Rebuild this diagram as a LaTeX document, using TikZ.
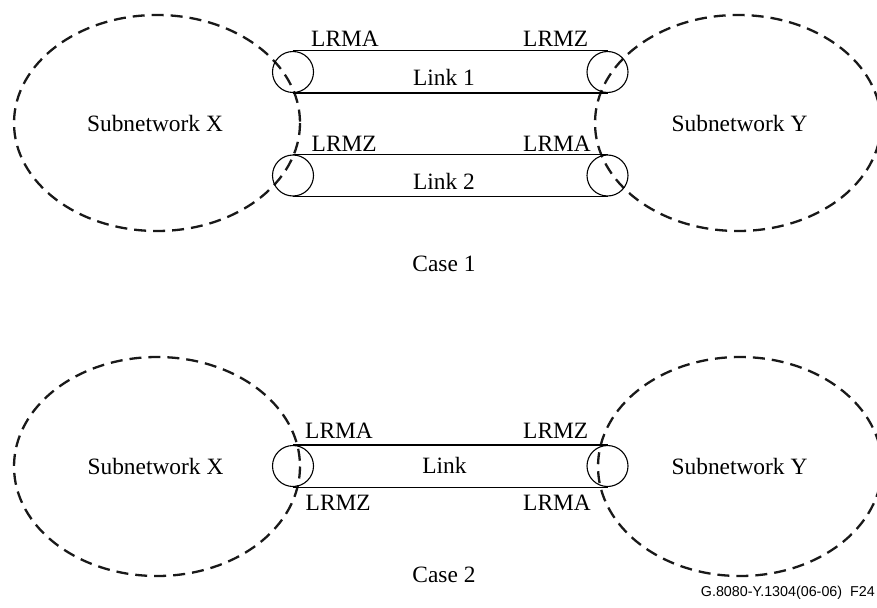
\documentclass[tikz,border=0pt]{standalone}
\usepackage{fontspec}
\setmainfont{Liberation Serif}
\newfontfamily\footfont{Liberation Sans}
\begin{document}
\begin{tikzpicture}[x=1pt,y=-1pt,
  subnet/.style={draw=black!90, line width=2.3pt, dash pattern=on 12pt off 7pt},
  endpt/.style={draw, circle, line width=1.1pt, minimum size=41pt, inner sep=0pt},
  linkline/.style={line width=1.1pt},
  lbl/.style={inner sep=0pt, font=\fontsize{23.4}{28}\selectfont},
  foot/.style={inner sep=0pt, font=\footfont\fontsize{14.3}{17}\selectfont}]
\useasboundingbox (0,0) rectangle (877,607);
\clip (0,0) rectangle (877,607);
% ---------- Case 1 ----------
\draw[subnet] (157,123) ellipse [x radius=143, y radius=108];
\draw[subnet] (738,123) ellipse [x radius=143, y radius=108];
\node[lbl, anchor=base] (sx1) at (155,131.7) {Subnetwork X};
\node[lbl, anchor=base] (sy1) at (739.5,131.7) {Subnetwork Y};
\node[endpt] (a1) at (293,72) {};
\node[endpt] (z1) at (607.5,72) {};
\draw[linkline] (a1.north) -- (z1.north);
\draw[linkline] (a1.south) -- (z1.south);
\node[lbl, anchor=base] (l1) at (444,86) {Link 1};
\node[endpt] (a2) at (293,175.5) {};
\node[endpt] (z2) at (607.5,175.5) {};
\draw[linkline] (a2.north) -- (z2.north);
\draw[linkline] (a2.south) -- (z2.south);
\node[lbl, anchor=base] (l2) at (444,189) {Link 2};
\node[lbl, anchor=base west] (t1) at (311,47) {LRMA};
\node[lbl, anchor=base west] (t2) at (523,47) {LRMZ};
\node[lbl, anchor=base west] (t3) at (311.5,151) {LRMZ};
\node[lbl, anchor=base west] (t4) at (523,151) {LRMA};
\node[lbl, anchor=base] (c1) at (444,271.7) {Case 1};
% ---------- Case 2 ----------
\draw[subnet] (157,466.5) ellipse [x radius=143, y radius=109.5];
\draw[subnet] (740,466.5) ellipse [x radius=142, y radius=109.5];
\node[lbl, anchor=base] (sx2) at (155.5,474) {Subnetwork X};
\node[lbl, anchor=base] (sy2) at (739.5,474) {Subnetwork Y};
\node[endpt] (a3) at (293,466) {};
\node[endpt] (z3) at (607.5,466) {};
\draw[linkline] (a3.north) -- (z3.north);
\draw[linkline] (a3.south) -- (z3.south);
\node[lbl, anchor=base] (l3) at (444.5,473) {Link};
\node[lbl, anchor=base west] (u1) at (305,438) {LRMA};
\node[lbl, anchor=base west] (u2) at (523,438) {LRMZ};
\node[lbl, anchor=base west] (u3) at (305.5,510) {LRMZ};
\node[lbl, anchor=base west] (u4) at (523,510) {LRMA};
\node[lbl, anchor=base] (c2) at (444,582) {Case 2};
\node[foot, anchor=base east] (ft) at (875,596) {G.8080-Y.1304(06-06)\hspace{8pt}F24};
\end{tikzpicture}
\end{document}
